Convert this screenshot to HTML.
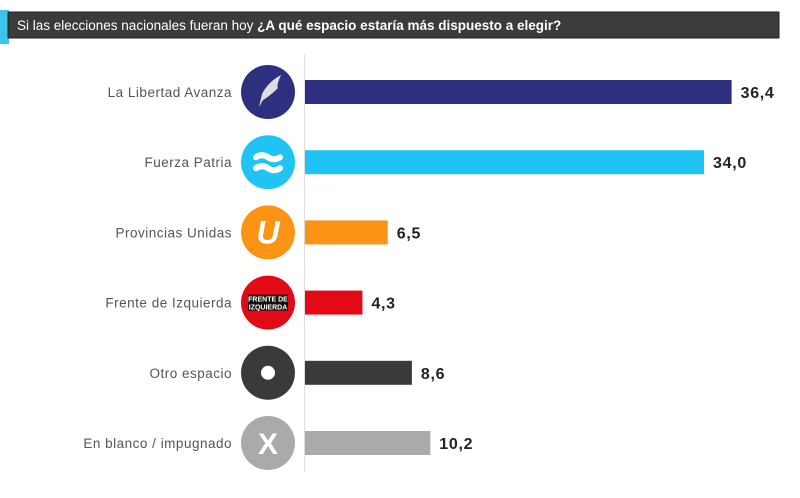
<!DOCTYPE html>
<html><head><meta charset="utf-8">
<style>
body{margin:0;background:#fff;width:800px;height:493px;overflow:hidden;font-family:"Liberation Sans",sans-serif}
</style></head>
<body>
<svg width="800" height="493" id="chart">
  <rect x="0" y="10" width="9" height="34" fill="#3ec3ea"/>
  <rect x="8" y="12" width="771" height="26" fill="#3b3b3b" stroke="#222"/>
  <text x="17" y="30" font-size="13.5" fill="#fff">Si las elecciones nacionales fueran hoy <tspan font-weight="bold">¿A qué espacio estaría más dispuesto a elegir?</tspan></text>
  <line x1="304.5" y1="54" x2="304.5" y2="472" stroke="#ddd" stroke-width="1"/>
  <g id="rows"></g>
</svg>
<script>
const categories=["La Libertad Avanza","Fuerza Patria","Provincias Unidas","Frente de Izquierda","Otro espacio","En blanco / impugnado"];
const values=[36.4,34.0,6.5,4.3,8.6,10.2];
const valueLabels=["36,4","34,0","6,5","4,3","8,6","10,2"];
const colors=["#2e2f7e","#1fc4f5","#fb9414","#e20a17","#3a3a3a","#aaaaaa"];
const NS="http://www.w3.org/2000/svg";
const g=document.getElementById('rows');
function xScale(v){return 305+8+11.5*v;}
function yScale(i){return 92+70.2*i;}
function mk(t,a){const e=document.createElementNS(NS,t);for(const k in a)e.setAttribute(k,a[k]);return e;}
categories.forEach((c,i)=>{
  const cy=yScale(i);
  const lab=mk('text',{x:232,y:cy+5,'text-anchor':'end','font-size':13.5,fill:'#555','letter-spacing':'0.5'});
  lab.textContent=c;
  
  
  g.appendChild(lab);
  const circ=mk('circle',{cx:268,cy:cy,r:27,fill:colors[i]});
  
  
  g.appendChild(circ);
  let ic;
  if(i===0){ic=mk('path',{d:`M259 ${cy+15} L262 ${cy+2} Q268 ${cy-10} 281 ${cy-17} Q276 ${cy-6} 278 ${cy-4} Q270 ${cy+4} 263 ${cy+8} Z`,fill:'#ddd'});}
  else if(i===1){ic=mk('path',{d:`M256 ${cy-5} Q262 ${cy-9} 268 ${cy-5} Q274 ${cy-1} 280 ${cy-5} M256 ${cy+6} Q262 ${cy+2} 268 ${cy+6} Q274 ${cy+10} 280 ${cy+6}`,fill:'none',stroke:'#fff','stroke-width':6,'stroke-linecap':'round'});}
  else if(i===2){ic=mk('text',{x:268,y:cy+11,'text-anchor':'middle','font-size':32,'font-weight':'bold','font-style':'italic',fill:'#fff'});ic.textContent='U';}
  else if(i===3){ic=mk('g',{});const r=mk('rect',{x:248,y:cy-8,width:40,height:16,fill:'#111'});ic.appendChild(r);const t=mk('text',{x:268,y:cy-1,'text-anchor':'middle','font-size':7,'font-weight':'bold',fill:'#fff'});t.textContent='FRENTE DE';ic.appendChild(t);const t2=mk('text',{x:268,y:cy+7,'text-anchor':'middle','font-size':7,'font-weight':'bold',fill:'#fff'});t2.textContent='IZQUIERDA';ic.appendChild(t2);}
  else if(i===4){ic=mk('circle',{cx:268,cy:cy,r:7,fill:'#fff'});}
  else {ic=mk('text',{x:268,y:cy+11,'text-anchor':'middle','font-size':30,'font-weight':'bold',fill:'#fff'});ic.textContent='X';}
  
  
  g.appendChild(ic);
  const x1=xScale(values[i]);
  const bar=mk('rect',{x:305,y:cy-12,width:x1-305,height:24,fill:colors[i]});
  
  
  g.appendChild(bar);
  const vl=mk('text',{x:x1+9,y:cy+6,'font-size':16,'font-weight':'bold',fill:'#222','letter-spacing':'0.7'});
  vl.textContent=valueLabels[i];
  
  
  g.appendChild(vl);
});
</script>
</body></html>
